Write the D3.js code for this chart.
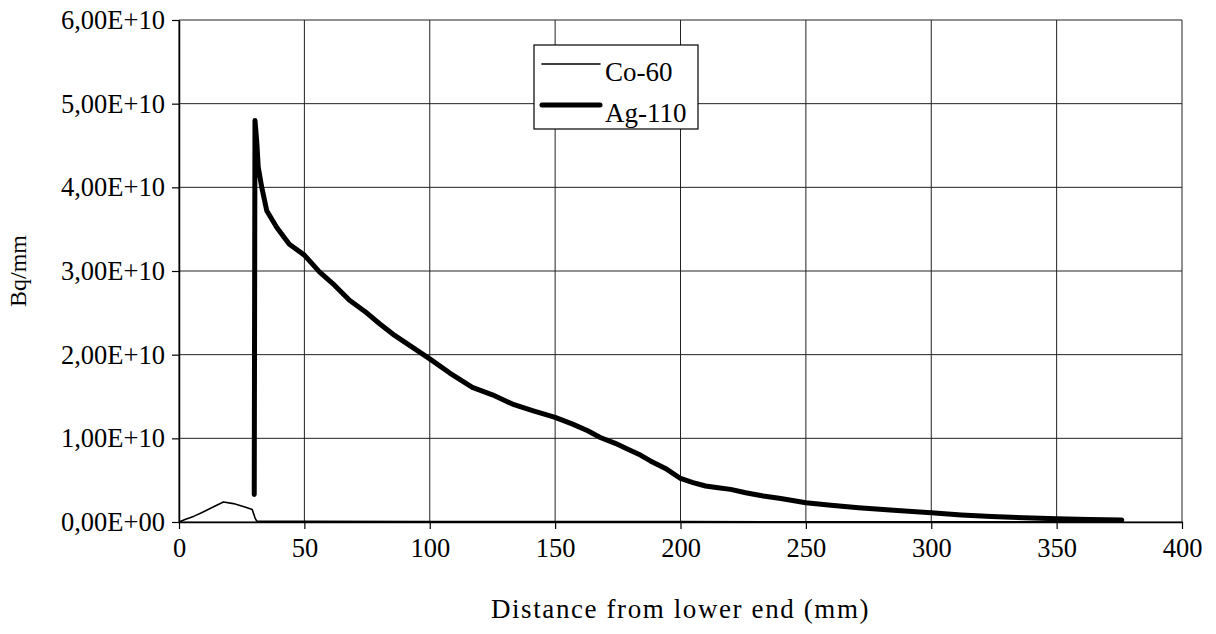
<!DOCTYPE html>
<html>
<head>
<meta charset="utf-8">
<script src="https://cdn.jsdelivr.net/npm/d3@7"></script>
<style>
  body { margin: 0; background: #fff; }
  svg { font-family: "Liberation Serif", "Times New Roman", serif; }
</style>
</head>
<body>
<svg id="chart"></svg>
<script>
const WIDTH = 1216;
const HEIGHT = 634;
const MARGIN = { top: 20, right: 34, bottom: 112, left: 179 };

// distance (mm) and activity (units of 1E10 Bq/mm)
const coX = [0, 2.4, 6, 9, 13, 17.7, 21.7, 26.3, 29.2, 30.3, 31, 50, 100, 150, 200, 250, 300, 350, 376];
const coY = [0, 0.03, 0.07, 0.11, 0.17, 0.24, 0.22, 0.18, 0.15, 0.05, 0.01, 0.008, 0.006, 0.005, 0.004, 0.003, 0.002, 0.002, 0.002];

const agX = [30, 30.3, 31, 31.6, 33, 35, 39, 44, 50, 56, 62, 68, 74, 80, 86, 93, 100, 108, 117, 125,
    133, 141, 150, 157, 163, 168, 174, 179, 184, 188, 194, 200, 205, 210, 215, 220, 226, 233, 240, 250,
    260, 271, 285, 300, 312, 324, 337, 350, 363, 376];
const agY = [0.33, 4.80, 4.55, 4.24, 4.0, 3.72, 3.52, 3.32, 3.19, 2.99, 2.83, 2.65, 2.52, 2.37, 2.23, 2.09, 1.95, 1.78, 1.61, 1.52,
    1.41, 1.33, 1.25, 1.17, 1.09, 1.01, 0.94, 0.87, 0.80, 0.73, 0.64, 0.52, 0.47, 0.43, 0.41, 0.39, 0.35, 0.31, 0.28, 0.23,
    0.20, 0.17, 0.14, 0.11, 0.085, 0.065, 0.05, 0.04, 0.03, 0.024];

const xTicks = [0, 50, 100, 150, 200, 250, 300, 350, 400];
const yTicks = [0, 1, 2, 3, 4, 5, 6];
const yTickLabels = ['0,00E+00', '1,00E+10', '2,00E+10', '3,00E+10', '4,00E+10', '5,00E+10', '6,00E+10'];

const seriesNames = ['Co-60', 'Ag-110'];
const seriesWidths = [1.6, 5];

const svg = d3.select('#chart')
    .attr('width', WIDTH)
    .attr('height', HEIGHT);

const innerW = WIDTH - MARGIN.left - MARGIN.right;
const innerH = HEIGHT - MARGIN.top - MARGIN.bottom;

const x = d3.scaleLinear().domain([0, 400]).range([MARGIN.left, MARGIN.left + innerW]);
const y = d3.scaleLinear().domain([0, 6]).range([MARGIN.top + innerH, MARGIN.top]);

// grid
svg.append('g')
    .selectAll('line')
    .data(xTicks)
    .join('line')
    .attr('x1', d => x(d)).attr('x2', d => x(d))
    .attr('y1', y(0)).attr('y2', y(6))
    .attr('stroke', '#222').attr('stroke-width', 1);

svg.append('g')
    .selectAll('line')
    .data(yTicks)
    .join('line')
    .attr('x1', x(0)).attr('x2', x(400))
    .attr('y1', d => y(d)).attr('y2', d => y(d))
    .attr('stroke', '#222').attr('stroke-width', 1);

// axes
const xAxis = svg.append('g')
    .attr('transform', `translate(0,${y(0)})`)
    .call(d3.axisBottom(x).tickValues(xTicks).tickSize(7).tickPadding(9).tickSizeOuter(0));

const yAxis = svg.append('g')
    .attr('transform', `translate(${x(0)},0)`)
    .call(d3.axisLeft(y).tickValues(yTicks).tickSize(7).tickPadding(7).tickSizeOuter(0)
        .tickFormat((d, i) => yTickLabels[i]));

[xAxis, yAxis].forEach(g => {
    g.select('.domain').attr('stroke', '#000').attr('stroke-width', 1.5);
    g.selectAll('.tick line').attr('stroke', '#000').attr('stroke-width', 1.2);
    g.selectAll('.tick text')
        .attr('fill', '#000')
        .style('font-family', '"Liberation Serif", serif')
        .style('font-size', '26.5px');
});

// axis titles
svg.append('text')
    .attr('x', (x(0) + x(400)) / 2)
    .attr('y', 618)
    .attr('text-anchor', 'middle')
    .style('font-size', '27px')
    .style('letter-spacing', '1.6px')
    .text('Distance from lower end (mm)');

svg.append('text')
    .attr('transform', `translate(26,${(y(0) + y(6)) / 2}) rotate(-90)`)
    .attr('text-anchor', 'middle')
    .style('font-size', '24px')
    .text('Bq/mm');

// series
const line = d3.line()
    .x(d => x(d[0]))
    .y(d => y(d[1]));

const coData = coX.map((d, i) => [d, coY[i]]);
const agData = agX.map((d, i) => [d, agY[i]]);

svg.append('path')
    .datum(coData)
    .attr('d', line)
    .attr('fill', 'none')
    .attr('stroke', '#000')
    .attr('stroke-width', seriesWidths[0])
    .attr('stroke-linejoin', 'round');

svg.append('path')
    .datum(agData)
    .attr('d', line)
    .attr('fill', 'none')
    .attr('stroke', '#000')
    .attr('stroke-width', seriesWidths[1])
    .attr('stroke-linejoin', 'round')
    .attr('stroke-linecap', 'round');

// legend
const legend = svg.append('g').attr('transform', 'translate(534,45)');

legend.append('rect')
    .attr('width', 164).attr('height', 84)
    .attr('fill', '#fff')
    .attr('stroke', '#000').attr('stroke-width', 1.2);

const items = legend.selectAll('.item')
    .data(seriesNames)
    .join('g')
    .attr('class', 'item')
    .attr('transform', (d, i) => `translate(0,${19 + i * 41})`);

items.append('line')
    .attr('x1', 8).attr('x2', 66)
    .attr('stroke', '#000')
    .attr('stroke-width', (d, i) => seriesWidths[i])
    .attr('stroke-linecap', 'round');

items.append('text')
    .attr('x', 71)
    .attr('y', 17)
    .style('font-size', '27px')
    .text(d => d);
</script>
</body>
</html>
